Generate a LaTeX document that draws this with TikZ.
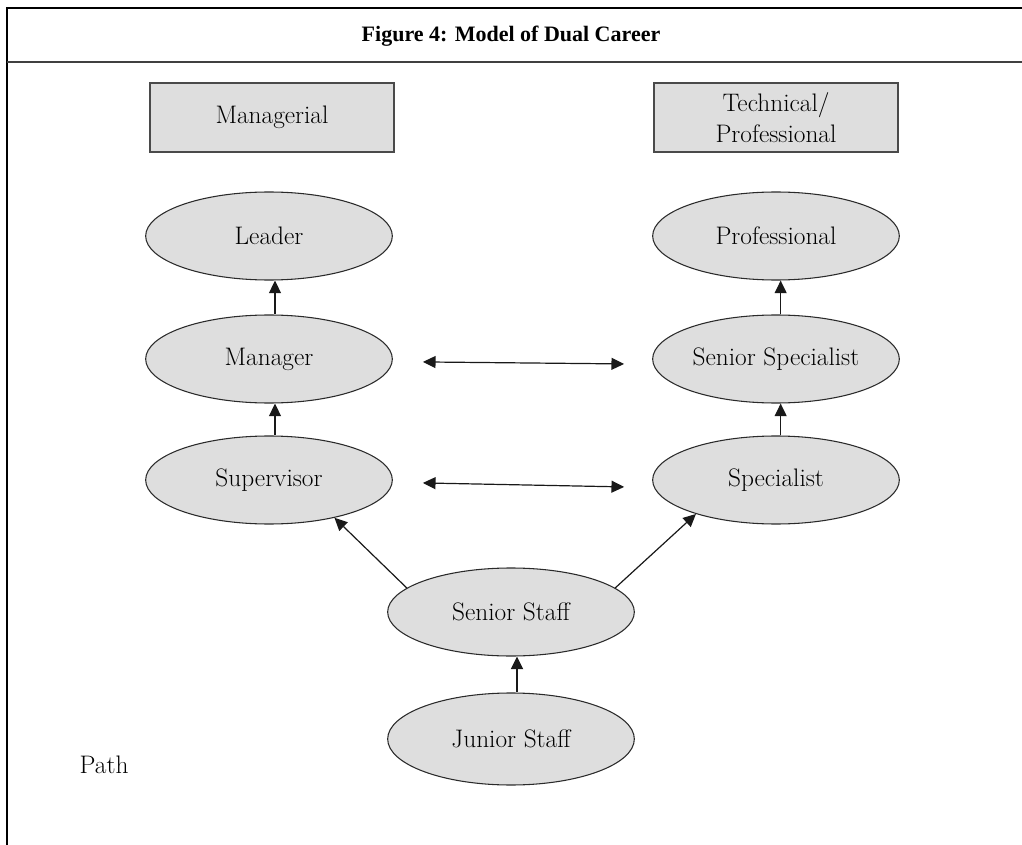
\documentclass[tikz,border=0pt]{standalone}
\usepackage{fontspec}
\setmainfont{Latin Modern Roman}
\newfontfamily\titlefont{Liberation Serif}
\usetikzlibrary{arrows.meta,shapes.geometric}
\definecolor{boxfill}{HTML}{DEDEDE}
\definecolor{edge}{HTML}{2A2A2A}
\begin{document}
\begin{tikzpicture}[x=0.75pt,y=-0.75pt,
  every node/.style={font=\fontsize{19}{23}\selectfont},
  headbox/.style={draw=edge!85,line width=1.1pt,fill=boxfill,minimum width=183pt,minimum height=51.75pt,inner sep=0pt,align=center},
  rung/.style={ellipse,draw=edge,line width=0.8pt,fill=boxfill,minimum width=185pt,minimum height=66pt,inner sep=0pt},
  up/.style={-{Triangle[length=9.5pt,width=9pt]},line width=0.9pt,black!90},
  both/.style={{Triangle[length=9.5pt,width=9pt]}-{Triangle[length=9.5pt,width=9pt]},line width=0.9pt,black!90}]
\useasboundingbox (0,0) rectangle (1022,845);
% frame
\draw[line width=1.6pt] (7,845) -- (7,8) -- (1022,8);
\draw[line width=1.2pt,black!75] (7,62) -- (1022,62);
\node[font=\titlefont\fontsize{16.5}{20}\selectfont\bfseries] (title) at (511,36) {Figure 4: Model of Dual Career};
% column heads
\node[headbox] (mgr) at (272,117.5) {Managerial};
\node[headbox] (tech) at (776,117.5) {Technical/\\Professional};
% managerial ladder
\node[rung] (lead) at (269,236) {Leader};
\node[rung] (man) at (269,359) {Manager};
\node[rung] (sup) at (269,480) {Supervisor};
% technical ladder
\node[rung] (prof) at (776,236) {Professional};
\node[rung] (ssp) at (776,359) {Senior Specialist};
\node[rung] (spec) at (776,480) {Specialist};
% common entry
\node[rung] (sst) at (511,612) {Senior Staff};
\node[rung,minimum height=69pt] (jst) at (511,739) {Junior Staff};
\node[anchor=base west] (path) at (75,773) {Path};
% promotions
\draw[up] ([xshift=4.5pt]man.north) -- ([xshift=4.5pt]lead.south);
\draw[up] ([xshift=4.5pt]sup.north) -- ([xshift=4.5pt]man.south);
\draw[up] ([xshift=3.5pt]ssp.north) -- ([xshift=3.5pt]prof.south);
\draw[up] ([xshift=3.5pt]spec.north) -- ([xshift=3.5pt]ssp.south);
\draw[up,line width=1.5pt] ([xshift=4.5pt]jst.north) -- ([xshift=4.5pt]sst.south);
\draw[up] (sst.167) -- (sup.-30);
\draw[up] (sst.13) -- (spec.203);
% lateral moves
\draw[both] ([xshift=22.5pt,yshift=-2.2pt]man.east) -- ([xshift=-21pt,yshift=-3.7pt]ssp.west);
\draw[both] ([xshift=22.5pt,yshift=-2.2pt]sup.east) -- ([xshift=-21pt,yshift=-5.2pt]spec.west);
\end{tikzpicture}
\end{document}
